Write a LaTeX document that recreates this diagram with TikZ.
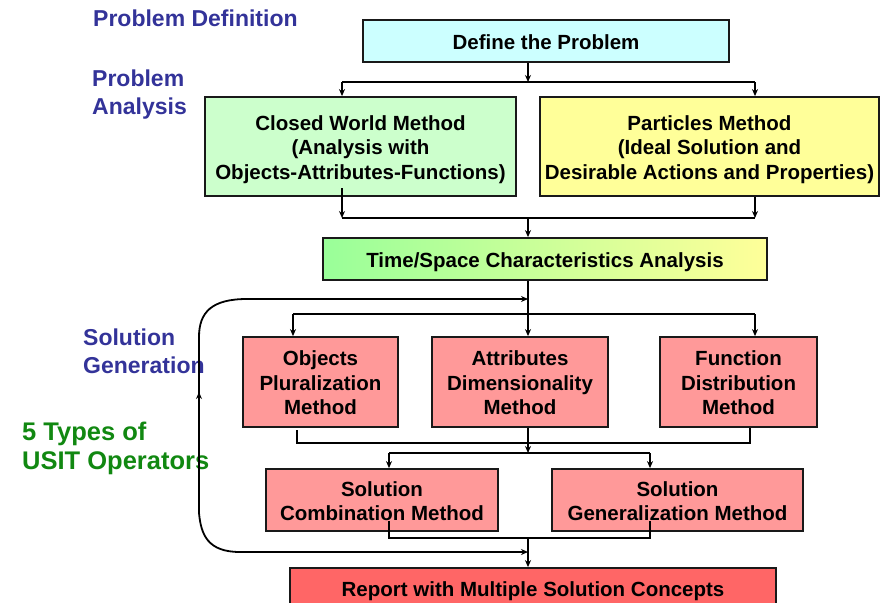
\documentclass[tikz,border=0pt]{standalone}
\usepackage{fontspec}
\setmainfont{Liberation Sans}
\usetikzlibrary{arrows.meta,calc}
\definecolor{stagecol}{HTML}{333399}
\definecolor{opcol}{HTML}{118811}
\definecolor{defcol}{HTML}{CCFFFF}
\definecolor{cwcol}{HTML}{CCFFCC}
\definecolor{pmcol}{HTML}{FFFF99}
\definecolor{tsgreen}{HTML}{99FF99}
\definecolor{gencol}{HTML}{FF9999}
\definecolor{repcol}{HTML}{FF6666}
% box text: centred lines, placed with zero height so it sits at the box centre
\newcommand\boxlines[2][-8.75pt]{\raisebox{#1}[0pt][0pt]{\begin{tabular}{@{}c@{}}#2\end{tabular}}}
\tikzset{
  box/.style={draw=black!90, line width=1.8pt, inner sep=0pt,
    font=\fontsize{20.5}{24.5}\selectfont\bfseries},
  stage/.style={anchor=west, inner sep=0pt, align=left, text=stagecol,
    font=\fontsize{23}{28}\selectfont\bfseries},
  ops/.style={anchor=west, inner sep=0pt, align=left, text=opcol,
    font=\fontsize{25.5}{29.5}\selectfont\bfseries},
  link/.style={line width=1.8pt, black},
  arr/.style={link, -{Stealth[length=7pt,width=6pt]}},
}
\begin{document}
\begin{tikzpicture}[x=1pt,y=-1pt]
\useasboundingbox (0,0) rectangle (888,602);
\clip (0,0) rectangle (888,602);

% stage labels
\node[stage] (lbldef) at (93,18) {Problem Definition};
\node[stage] (lblana) at (92,95) {Problem\\Analysis};
\node[stage] (lblgen) at (83,351.5) {Solution\\Generation};
\node[ops]   (lblops) at (22,448.5) {5 Types of\\USIT Operators};

% boxes
\node[box, fill=defcol, minimum width=366pt, minimum height=42pt] (def) at (546,41)
  {\boxlines{Define the Problem}};
\node[box, fill=cwcol, minimum width=311pt, minimum height=99pt] (cw) at (360.5,146.5)
  {\boxlines{Closed World Method\\(Analysis with\\Objects-Attributes-Functions)}};
\node[box, fill=pmcol, minimum width=339pt, minimum height=99pt] (pm) at (709.5,146.5)
  {\boxlines{Particles Method\\(Ideal Solution and\\Desirable Actions and Properties)}};
\node[box, left color=tsgreen, right color=pmcol, minimum width=444pt, minimum height=42pt] (ts) at (545,259)
  {\boxlines{Time/Space Characteristics Analysis}};
\node[box, fill=gencol, minimum width=155pt, minimum height=90pt] (op) at (320.5,382)
  {\boxlines{Objects\\Pluralization\\Method}};
\node[box, fill=gencol, minimum width=176pt, minimum height=90pt] (ad) at (520,382)
  {\boxlines{Attributes\\Dimensionality\\Method}};
\node[box, fill=gencol, minimum width=157pt, minimum height=90pt] (fd) at (738.5,382)
  {\boxlines{Function\\Distribution\\Method}};
\node[box, fill=gencol, minimum width=232pt, minimum height=62pt] (sc) at (382,500)
  {\boxlines{Solution\\Combination Method}};
\node[box, fill=gencol, minimum width=251pt, minimum height=62pt] (sg) at (677.5,500)
  {\boxlines{Solution\\Generalization Method}};
\node[box, fill=repcol, minimum width=486pt, minimum height=44pt] (rp) at (533,590)
  {\boxlines[-6.75pt]{Report with Multiple Solution Concepts}};

% junction points
\coordinate (top)   at (528,82);
\coordinate (topL)  at (342,82);
\coordinate (topR)  at (755,82);
\coordinate (mid)   at (528,218);
\coordinate (midL)  at (342,218);
\coordinate (midR)  at (755,218);
\coordinate (cwout) at (342,188);
\coordinate (dist)  at (528,314);
\coordinate (distL) at (293,314);
\coordinate (distR) at (755,314);
\coordinate (loopT) at (528,299);
\coordinate (loopB) at (528,552);
\coordinate (colL)  at (297,443);
\coordinate (colR)  at (750,443);
\coordinate (opout) at (297,430);
\coordinate (split) at (528,453);
\coordinate (splL)  at (389,453);
\coordinate (splR)  at (650,453);
\coordinate (scout) at (389,521);
\coordinate (sgout) at (650,521);
\coordinate (join)  at (528,538);
\coordinate (joinL) at (389,538);
\coordinate (joinR) at (650,538);

% problem definition to the two analysis methods
\draw[arr] (def.south -| top) -- (top);
\draw[link] (topL) -- (topR);
\draw[arr] (topL) -- (topL |- cw.north);
\draw[arr] (topR) -- (topR |- pm.north);

% analysis methods into time/space analysis
\draw[arr] (cwout) -- (midL);
\draw[arr] (pm.south -| midR) -- (midR);
\draw[link] (midL) -- (midR);
\draw[arr] (mid) -- (mid |- ts.north);

% time/space analysis to the three operators
\draw[arr] (ts.south -| dist) -- (dist |- ad.north);
\draw[link] (distL) -- (distR);
\draw[arr] (distL) -- (distL |- op.north);
\draw[arr] (distR) -- (distR |- fd.north);

% collecting the three operators
\draw[link] (opout) -- (colL) -- (colR) -- (colR |- fd.south);
\draw[arr] (ad.south -| split) -- (split);
\draw[link] (splL) -- (splR);
\draw[arr] (splL) -- (splL |- sc.north);
\draw[arr] (splR) -- (splR |- sg.north);

% combining the two solution methods into the report
\draw[link] (scout) -- (joinL) -- (joinR) -- (sgout);
\draw[arr] (join) -- (join |- rp.north);

% iteration loop on the left
\draw[arr] (247,299) -- (loopT);
\draw[link] (247,299) .. controls (212,299) and (199,312) .. (199,337)
  -- (199,513) .. controls (201,535) and (208,552) .. (240,552);
\draw[arr] (240,552) -- (loopB);
\draw[arr] (199,420) -- (199,392);
\end{tikzpicture}
\end{document}
